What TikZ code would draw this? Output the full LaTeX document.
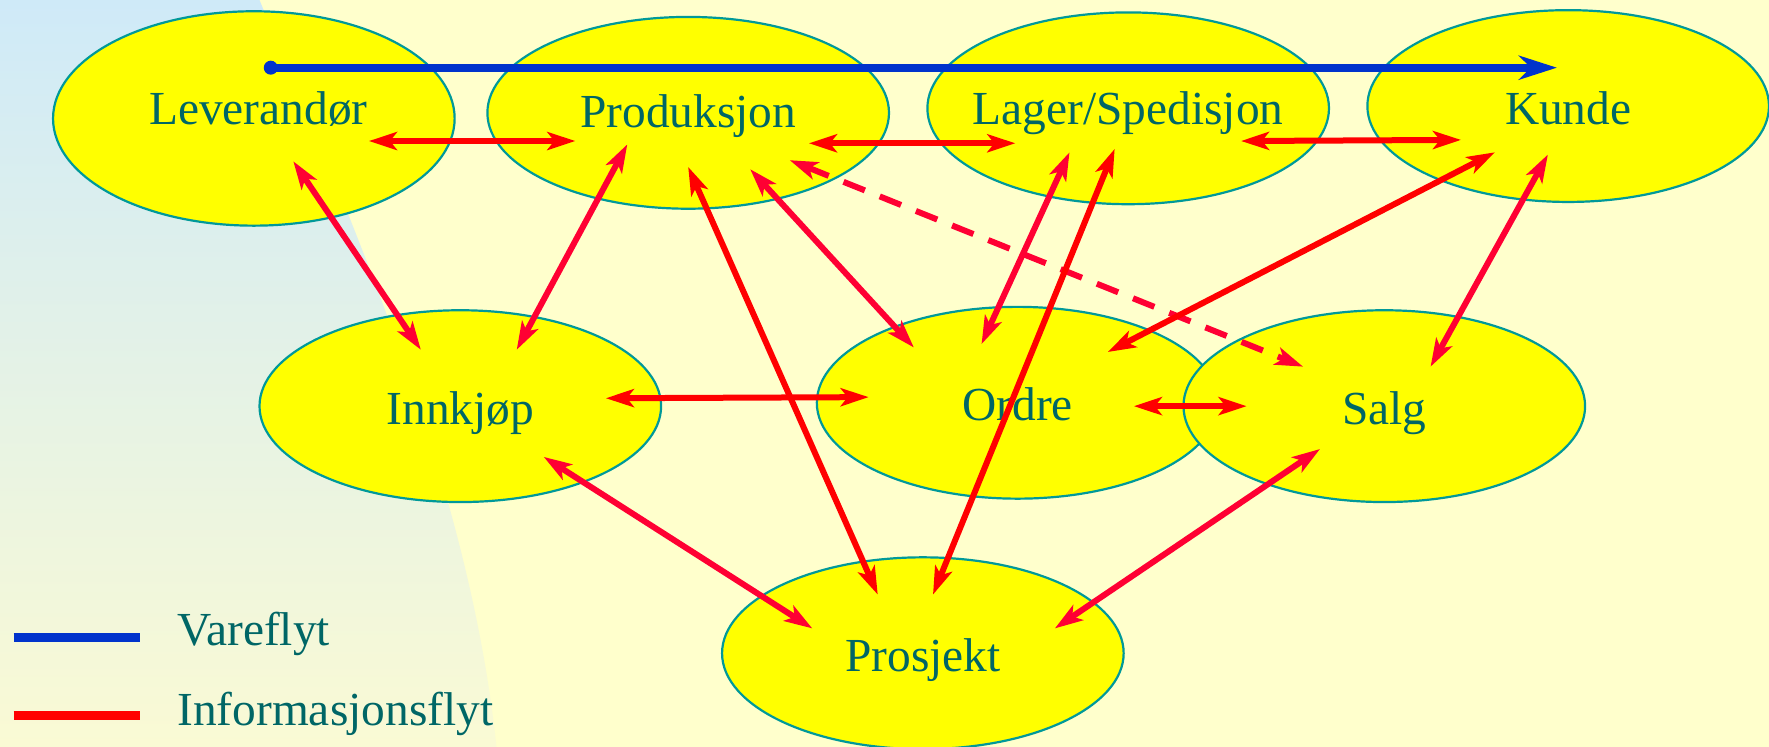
\documentclass[tikz,border=0pt]{standalone}
\usepackage{fontspec}
\setmainfont{Liberation Serif}
\usetikzlibrary{shapes.geometric,arrows.meta,calc}
\definecolor{bgyel}{HTML}{FFFFCC}
\definecolor{elfill}{HTML}{FFFF00}
\definecolor{elline}{HTML}{009999}
\definecolor{txt}{HTML}{006666}
\definecolor{infred}{HTML}{FF0000}
\definecolor{infredb}{HTML}{FF0033}
\definecolor{vblue}{HTML}{0033CC}
\definecolor{shtop}{HTML}{CFEAF8}
\definecolor{shbot}{HTML}{FAFAD4}
\begin{document}
\begin{tikzpicture}[x=1.1282pt,y=-1.1282pt,
  ell/.style={ellipse, draw=elline, fill=elfill, line width=2.2pt, minimum width=401.6pt, minimum height=191.8pt, inner sep=0pt},
  lbl/.style={text=txt, font=\fontsize{47.4}{54}\selectfont, inner sep=0pt, anchor=base},
  leg/.style={text=txt, font=\fontsize{47.4}{54}\selectfont, inner sep=0pt, anchor=base west},
  info/.style={draw=infred, line width=6pt, {Stealth[length=28pt,width=18pt,inset=7pt]}-{Stealth[length=28pt,width=18pt,inset=7pt]}},
  infob/.style={info, draw=infredb},
  ware/.style={draw=vblue, line width=8pt, -{Stealth[length=38pt,width=24pt,inset=12pt]}}
]
\useasboundingbox (0,0) rectangle (1568,662);
\fill[bgyel] (0,0) rectangle (1568,662);
\shade[top color=shtop, bottom color=shbot] (0,0) -- (230,0) .. controls (300,170) and (415,420) .. (440,662) -- (0,662) -- cycle;

% ellipses
\node[ell, minimum height=214.4pt] (lev) at (225,105) {};
\node[ell] (prod) at (610,100) {};
\node[ell] (lag) at (1000,96) {};
\node[ell] (kun) at (1390,94) {};
\node[ell] (inn) at (408,360) {};
\node[ell] (ord) at (902,357) {};
\node[ell] (salg) at (1227,360) {};
\node[ell] (pros) at (818,579) {};

% labels
\node[lbl] (tlev) at (229,110) {Leverandør};
\node[lbl] (tprod) at (610,113) {Produksjon};
\node[lbl] (tlag) at (1000,110) {Lager/Spedisjon};
\node[lbl] (tkun) at (1390,110) {Kunde};
\node[lbl] (tinn) at (408,376) {Innkjøp};
\node[lbl] (tord) at (902,373) {Ordre};
\node[lbl] (tsalg) at (1227,376) {Salg};
\node[lbl] (tpros) at (818,595) {Prosjekt};

% information flow
\draw[info] ($(lev)+(102,20)$) -- ($(prod)+(-100,25)$);
\draw[info] ($(prod)+(107,27)$) -- ($(lag)+(-100,31)$);
\draw[info] ($(lag)+(100,29)$) -- ($(kun)+(-95,30)$);
\draw[infob] ($(lev)+(35,38)$) -- ($(inn)+(-35,-50)$);
\draw[infob] ($(prod)+(-54,28)$) -- ($(inn)+(50,-50)$);
\draw[info] ($(prod)+(0,48)$) -- ($(pros)+(-40,-52)$);
\draw[infob] ($(prod)+(55,50)$) -- ($(ord)+(-92,-49)$);
\draw[infob, dash pattern=on 23pt off 16pt] ($(prod)+(90,42)$) -- ($(salg)+(-72,-35)$);
\draw[infob] ($(lag)+(-52,39)$) -- ($(ord)+(-32,-52)$);
\draw[info] ($(lag)+(-12,36)$) -- ($(pros)+(9,-52)$);
\draw[info] ($(kun)+(-65,41)$) -- ($(ord)+(80,-45)$);
\draw[infob] ($(kun)+(-18,43)$) -- ($(salg)+(41,-35)$);
\draw[info] ($(inn)+(129,-7)$) -- ($(ord)+(-132,-5)$);
\draw[info] ($(ord)+(103,3)$) -- ($(salg)+(-122,0)$);
\draw[infob] ($(inn)+(74,45)$) -- ($(pros)+(-98,-22)$);
\draw[infob] ($(salg)+(-57,38)$) -- ($(pros)+(117,-22)$);

% goods flow
\coordinate (vstart) at ($(lev)+(15,-45)$);
\fill[vblue] (vstart) circle (7pt);
\draw[ware] (vstart) -- ($(kun)+(-10,-34)$);

% legend
\coordinate (lb1) at (12,565);
\coordinate (lb2) at (124,565);
\coordinate (lr1) at (12,634);
\coordinate (lr2) at (124,634);
\draw[vblue, line width=8.5pt] (lb1) -- (lb2);
\draw[infred, line width=8.5pt] (lr1) -- (lr2);
\node[leg] (lv) at (157,572) {Vareflyt};
\node[leg] (li) at (157,643) {Informasjonsflyt};
\end{tikzpicture}
\end{document}
